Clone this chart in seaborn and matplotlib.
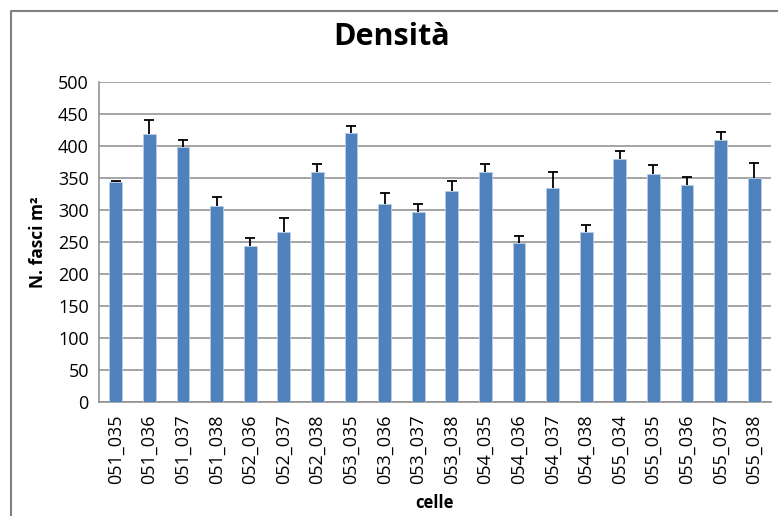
import numpy as np
import pandas as pd
import seaborn as sns
import matplotlib
matplotlib.use("Agg")
import matplotlib.pyplot as plt
from matplotlib.lines import Line2D

celle = ["051_035", "051_036", "051_037", "051_038", "052_036", "052_037", "052_038",
         "053_035", "053_036", "053_037", "053_038", "054_035", "054_036", "054_037",
         "054_038", "055_034", "055_035", "055_036", "055_037", "055_038"]
densita = [344, 419, 398, 307, 244, 265, 359, 420, 309, 297, 329, 359, 248, 334,
           265, 379, 357, 339, 409, 350]
errore = [1, 21, 12, 13, 12, 22, 13, 12, 18, 12, 17, 13, 12, 26, 12, 13, 13, 12, 13, 23]

sns.set_style("white", {"text.color": "black", "axes.labelcolor": "black",
                        "xtick.color": "black", "ytick.color": "black"})
plt.rcParams['font.family'] = ['Open Sans', 'DejaVu Sans']

df = pd.DataFrame({"celle": celle, "densita": densita})

fig = plt.figure(figsize=(7.78, 5.16), dpi=100)
ax = fig.add_axes([0.1272, 0.2209, 0.991 - 0.1272, 0.841 - 0.2209])

sns.barplot(data=df, x="celle", y="densita", color="#4F81BD", saturation=1,
            width=0.38, edgecolor="#b9cde5", linewidth=0.6, ax=ax, zorder=3)

x = np.arange(len(celle))
vals = np.array(densita, dtype=float)
err = np.array(errore, dtype=float)
_, caps, _ = ax.errorbar(x, vals, yerr=[np.zeros_like(err), err], fmt="none",
                         ecolor="black", elinewidth=1.3, capsize=3.6, capthick=1.3, zorder=4)
for c in caps:
    if np.allclose(c.get_ydata(), vals):
        c.set_visible(False)

ax.set_ylim(0, 500)
ax.set_xlim(-0.5, len(celle) - 0.5)
ax.set_yticks(range(0, 501, 50))
ax.yaxis.grid(True, color="#8c8c8c", linewidth=1.1, zorder=0)
ax.set_axisbelow(True)
for s in ["top", "right"]:
    ax.spines[s].set_visible(False)
for s in ["left", "bottom"]:
    ax.spines[s].set_color("#8c8c8c")
    ax.spines[s].set_linewidth(1.1)

ax.tick_params(axis="y", length=4.3, width=1.1, color="#8c8c8c", labelcolor="black",
               labelsize=13, pad=3)
ax.tick_params(axis="x", length=0, labelsize=13, pad=9, labelrotation=90, labelcolor="black")

ax.set_ylabel("N. fasci m²", fontsize=12.5, fontweight="bold", labelpad=8, color="black")
ax.set_xlabel("celle", fontsize=12, fontweight="bold", labelpad=7, color="black")
fig.suptitle("Densità", fontsize=22, fontweight="bold", x=0.503, y=0.957, color="black")

fig.add_artist(Line2D([11 / 778, 11 / 778, 1], [0, 1 - 11 / 516, 1 - 11 / 516],
                      transform=fig.transFigure, color="#808080", linewidth=1.5))

fig.savefig("out.png", dpi=100)
